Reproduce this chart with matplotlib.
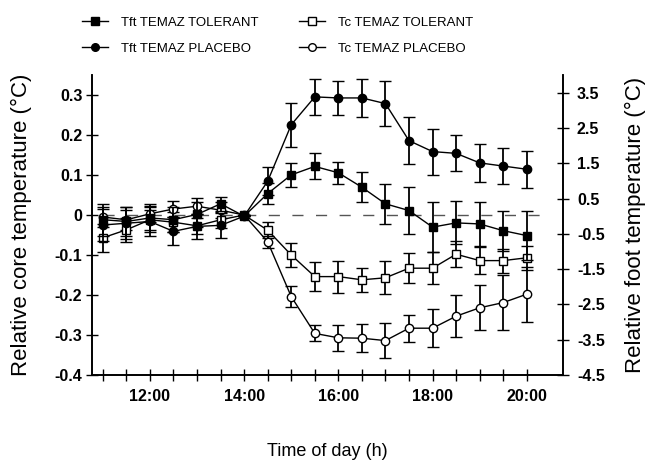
"""Core and foot temperature relative to 14:00, temazepam tolerant vs placebo."""

from matplotlib import pyplot
from matplotlib.lines import Line2D
from matplotlib.ticker import FixedLocator, FuncFormatter
import numpy

# Time of day (h), one point each half hour.
times = [11.0, 11.5, 12.0, 12.5, 13.0, 13.5, 14.0, 14.5, 15.0, 15.5,
         16.0, 16.5, 17.0, 17.5, 18.0, 18.5, 19.0, 19.5, 20.0]

# Foot temperature (right axis), degC relative to 14:00.
tft_tol = [-0.10, -0.15, -0.05, -0.10, 0.05, 0.35, 0.0, 0.64, 1.17, 1.41,
           1.23, 0.82, 0.35, 0.16, -0.31, -0.19, -0.22, -0.41, -0.55]
tft_tol_err = [0.45, 0.40, 0.40, 0.35, 0.35, 0.20, 0.0, 0.30, 0.33, 0.37,
               0.31, 0.42, 0.57, 0.67, 0.71, 0.61, 0.63, 0.57, 0.69]
tft_pla = [-0.25, -0.20, -0.15, -0.43, -0.29, -0.26, 0.0, 0.99, 2.59, 3.38,
           3.35, 3.35, 3.19, 2.14, 1.83, 1.78, 1.51, 1.42, 1.33]
tft_pla_err = [0.45, 0.45, 0.40, 0.40, 0.35, 0.35, 0.0, 0.40, 0.63, 0.50,
               0.47, 0.53, 0.63, 0.66, 0.65, 0.51, 0.54, 0.52, 0.53]

# Core temperature (left axis), degC relative to 14:00.
tc_tol = [-0.057, -0.037, -0.012, -0.018, -0.027, -0.012, 0.0, -0.038,
          -0.100, -0.154, -0.154, -0.162, -0.157, -0.133, -0.133, -0.098,
          -0.114, -0.114, -0.107]
tc_tol_err = [0.035, 0.030, 0.025, 0.025, 0.020, 0.020, 0.0, 0.020, 0.030,
              0.036, 0.040, 0.030, 0.041, 0.038, 0.040, 0.033, 0.033, 0.030,
              0.030]
tc_pla = [-0.005, -0.012, 0.003, 0.015, 0.022, 0.012, 0.0, -0.067, -0.204,
          -0.296, -0.307, -0.308, -0.314, -0.283, -0.283, -0.253, -0.232,
          -0.219, -0.198]
tc_pla_err = [0.025, 0.025, 0.020, 0.020, 0.020, 0.020, 0.0, 0.015, 0.026,
              0.020, 0.032, 0.035, 0.044, 0.034, 0.048, 0.052, 0.056, 0.069,
              0.069]

labels = ['Tft TEMAZ TOLERANT', 'Tft TEMAZ PLACEBO',
          'Tc TEMAZ TOLERANT', 'Tc TEMAZ PLACEBO']
xtick_labels = ['12:00', '14:00', '16:00', '18:00', '20:00']
left_ticks = [-0.4, -0.3, -0.2, -0.1, 0.0, 0.1, 0.2, 0.3]
right_ticks = [-4.5, -3.5, -2.5, -1.5, -0.5, 0.5, 1.5, 2.5, 3.5]

pyplot.rcParams['font.family'] = ['Liberation Sans', 'DejaVu Sans']

fig = pyplot.figure(figsize=(6.45, 4.75), dpi=100)
ax = fig.add_axes([92 / 645, 100 / 475, 471 / 645, 300 / 475])
ax2 = ax.twinx()

err_kw = dict(color='black', linewidth=1.0, elinewidth=1.3, capsize=4,
              capthick=1.3, markersize=6, markeredgewidth=1.0)
styles = [dict(marker='s', markerfacecolor='black'),
          dict(marker='o', markerfacecolor='black'),
          dict(marker='s', markerfacecolor='white'),
          dict(marker='o', markerfacecolor='white')]

ax.errorbar(times, tc_tol, yerr=tc_tol_err, markeredgecolor='black',
            zorder=4, **styles[2], **err_kw)
ax.errorbar(times, tc_pla, yerr=tc_pla_err, markeredgecolor='black',
            zorder=4, **styles[3], **err_kw)
ax2.errorbar(times, tft_tol, yerr=tft_tol_err, markeredgecolor='black',
             zorder=3, **styles[0], **err_kw)
ax2.errorbar(times, tft_pla, yerr=tft_pla_err, markeredgecolor='black',
             zorder=3, **styles[1], **err_kw)

# Reference line at zero.
ax.plot([11.0, 20.4], [0.0, 0.0], color='#555555', linewidth=1.0,
        linestyle=(0, (8, 9)), zorder=1)

ax.set_xlim(10.77, 20.77)
ax.set_ylim(-0.4, 0.35)
ax2.set_ylim(-4.5, 4.0)

major = numpy.arange(11.0, 20.01, 0.5)
ax.xaxis.set_major_locator(FixedLocator(major))
label_map = dict(zip([12.0, 14.0, 16.0, 18.0, 20.0], xtick_labels))
ax.xaxis.set_major_formatter(
    FuncFormatter(lambda v, pos: label_map.get(round(v, 1), '')))
ax.yaxis.set_major_locator(FixedLocator(left_ticks))
ax.yaxis.set_major_formatter(
    FuncFormatter(lambda v, pos: '0' if abs(v) < 1e-9 else f'{v:.1f}'))
ax2.yaxis.set_major_locator(FixedLocator(right_ticks))
ax2.yaxis.set_major_formatter(FuncFormatter(lambda v, pos: f'{v:.1f}'))

for a in (ax, ax2):
    a.spines['top'].set_visible(False)
    for s in a.spines.values():
        s.set_linewidth(1.2)
    a.tick_params(direction='inout', length=8, width=1.0, labelsize=11.5)
    for lab in a.get_yticklabels() + a.get_xticklabels():
        lab.set_fontweight('bold')
ax.tick_params(axis='y', pad=3)
ax.tick_params(axis='x', pad=6)
ax2.tick_params(axis='y', pad=6)

ax.set_xlabel('Time of day (h)', fontsize=13, labelpad=28)
ax.set_ylabel('Relative core temperature (°C)', fontsize=16)
ax2.set_ylabel('Relative foot temperature (°C)', fontsize=16)
ax.yaxis.set_label_coords(-0.127, 0.5)
ax2.yaxis.set_label_coords(1.132, 0.5)

handles = [Line2D([], [], color='black', linewidth=1.0, markersize=5.5,
                  markeredgecolor='black', **st) for st in styles]
fig.legend(handles, labels,
           loc='upper left', bbox_to_anchor=(70 / 645, 1 - 5 / 475),
           ncol=2, frameon=False, fontsize=9.5, handlelength=2.0,
           handletextpad=1.0, columnspacing=3.0, labelspacing=1.0)

fig.savefig('out.png', dpi=100)
